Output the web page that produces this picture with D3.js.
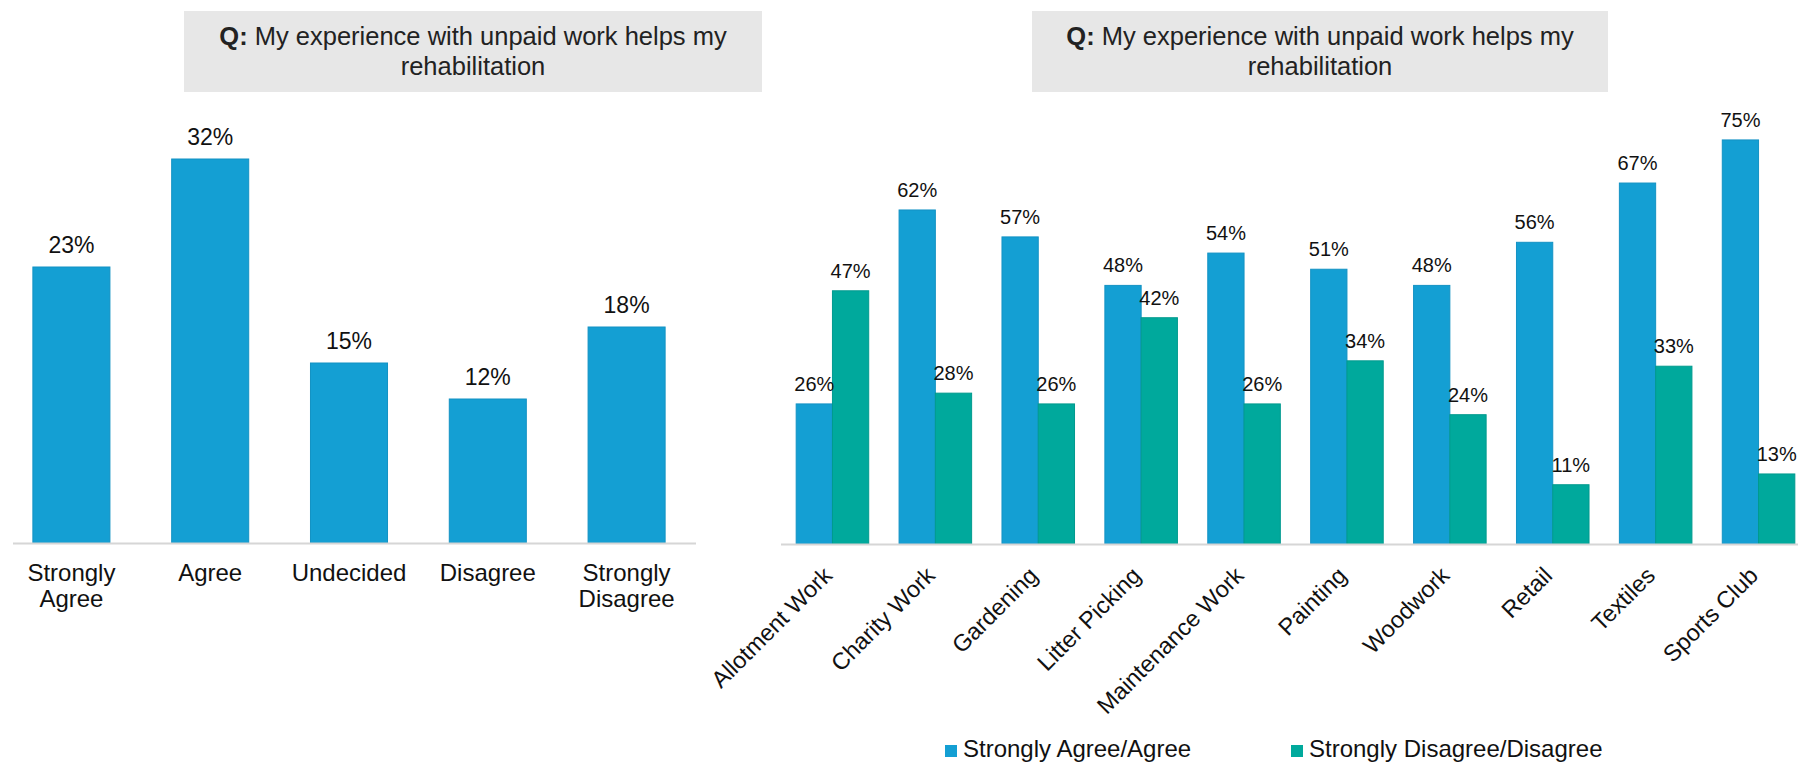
<!DOCTYPE html>
<html>
<head>
<meta charset="utf-8">
<script src="https://cdn.jsdelivr.net/npm/d3@7"></script>
<style>
  html, body { margin: 0; padding: 0; background: #ffffff; }
  svg { display: block; font-family: "Liberation Sans", Arial, sans-serif; }
</style>
</head>
<body>
<svg id="chart" width="1798" height="762"></svg>
<script>
// ---- Data ----
const titleBold = "Q:";
const titleLine1 = " My experience with unpaid work helps my";
const titleLine2 = "rehabilitation";

const leftCategories = [["Strongly", "Agree"], ["Agree"], ["Undecided"], ["Disagree"], ["Strongly", "Disagree"]];
const leftValues = [23, 32, 15, 12, 18];

const rightCategories = ["Allotment Work", "Charity Work", "Gardening", "Litter Picking", "Maintenance Work",
  "Painting", "Woodwork", "Retail", "Textiles", "Sports Club"];
const agreeValues = [26, 62, 57, 48, 54, 51, 48, 56, 67, 75];
const disagreeValues = [47, 28, 26, 42, 26, 34, 24, 11, 33, 13];
const seriesNames = ["Strongly Agree/Agree", "Strongly Disagree/Disagree"];

const BLUE = "#149fd3";
const GREEN = "#00a99c";
const TEXT = "#111111";

const svg = d3.select("#chart");

// ---- Title boxes ----
function titleBox(x0, x1) {
  const g = svg.append("g");
  g.append("rect").attr("x", x0).attr("y", 11).attr("width", x1 - x0).attr("height", 81)
    .attr("fill", "#e7e7e7");
  const cx = (x0 + x1) / 2;
  const t1 = g.append("text").attr("x", cx).attr("y", 45).attr("text-anchor", "middle")
    .attr("font-size", 25.5).attr("fill", "#222");
  t1.append("tspan").attr("font-weight", "bold").text(titleBold);
  t1.append("tspan").text(titleLine1);
  g.append("text").attr("x", cx).attr("y", 75).attr("text-anchor", "middle")
    .attr("font-size", 25.5).attr("fill", "#222").text(titleLine2);
}
titleBox(184, 762);
titleBox(1032, 1608);

// ---- Left chart ----
const xL = d3.scaleBand().domain(d3.range(leftValues.length)).range([2, 696])
  .paddingInner(0.445).paddingOuter(0.2225);
const yL = d3.scaleLinear().domain([0, 35]).range([543, 123]);

const gL = svg.append("g");
gL.selectAll("rect.bar").data(leftValues).join("rect")
  .attr("class", "bar")
  .attr("x", (d, i) => xL(i)).attr("width", xL.bandwidth())
  .attr("y", d => yL(d)).attr("height", d => yL(0) - yL(d))
  .attr("fill", BLUE).attr("stroke", "#1392c4").attr("stroke-width", 1);

gL.append("line").attr("x1", 13).attr("x2", 696).attr("y1", yL(0) + 0.5).attr("y2", yL(0) + 0.5)
  .attr("stroke", "#d6d6d6").attr("stroke-width", 2);

gL.selectAll("text.val").data(leftValues).join("text")
  .attr("class", "val")
  .attr("x", (d, i) => xL(i) + xL.bandwidth() / 2)
  .attr("y", d => yL(d) - 14)
  .attr("text-anchor", "middle").attr("font-size", 23).attr("fill", TEXT)
  .text(d => d + "%");

leftCategories.forEach((lines, i) => {
  const t = gL.append("text").attr("text-anchor", "middle").attr("font-size", 24).attr("fill", TEXT);
  lines.forEach((ln, j) => {
    t.append("tspan").attr("x", xL(i) + xL.bandwidth() / 2).attr("y", 581 + j * 26).text(ln);
  });
});

// ---- Right chart ----
const x0 = d3.scaleBand().domain(rightCategories).range([781, 1810])
  .paddingInner(0.295).paddingOuter(0.1475);
const x1 = d3.scaleBand().domain([0, 1]).range([0, x0.bandwidth()]);
const yR = d3.scaleLinear().domain([0, 80]).range([544, 113]);

const gR = svg.append("g");
const seriesData = [agreeValues, disagreeValues];
const colors = [BLUE, GREEN];
const strokes = ["#1392c4", "#009a8e"];

seriesData.forEach((vals, s) => {
  gR.selectAll("rect.s" + s).data(vals).join("rect")
    .attr("class", "s" + s)
    .attr("x", (d, i) => x0(rightCategories[i]) + x1(s))
    .attr("width", x1.bandwidth())
    .attr("y", d => yR(d)).attr("height", d => yR(0) - yR(d))
    .attr("fill", colors[s]).attr("stroke", strokes[s]).attr("stroke-width", 1);
});

gR.append("line").attr("x1", 781).attr("x2", 1798).attr("y1", yR(0) + 0.5).attr("y2", yR(0) + 0.5)
  .attr("stroke", "#d6d6d6").attr("stroke-width", 2);

seriesData.forEach((vals, s) => {
  gR.selectAll("text.v" + s).data(vals).join("text")
    .attr("class", "v" + s)
    .attr("x", (d, i) => x0(rightCategories[i]) + x1(s) + x1.bandwidth() / 2)
    .attr("y", d => yR(d) - 13)
    .attr("text-anchor", "middle").attr("font-size", 20).attr("fill", TEXT)
    .text(d => d + "%");
});

gR.selectAll("text.cat").data(rightCategories).join("text")
  .attr("class", "cat")
  .attr("text-anchor", "end").attr("font-size", 23.5).attr("fill", TEXT)
  .attr("transform", d => `translate(${x0(d) + x0.bandwidth() / 2 + 1},577) rotate(-45)`)
  .text(d => d);

// ---- Legend ----
const legendX = [945, 1291];
seriesNames.forEach((name, s) => {
  svg.append("rect").attr("x", legendX[s]).attr("y", 745).attr("width", 12).attr("height", 12)
    .attr("fill", colors[s]);
  svg.append("text").attr("x", legendX[s] + 18).attr("y", 757)
    .attr("font-size", 24).attr("fill", TEXT).text(name);
});
</script>
</body>
</html>
